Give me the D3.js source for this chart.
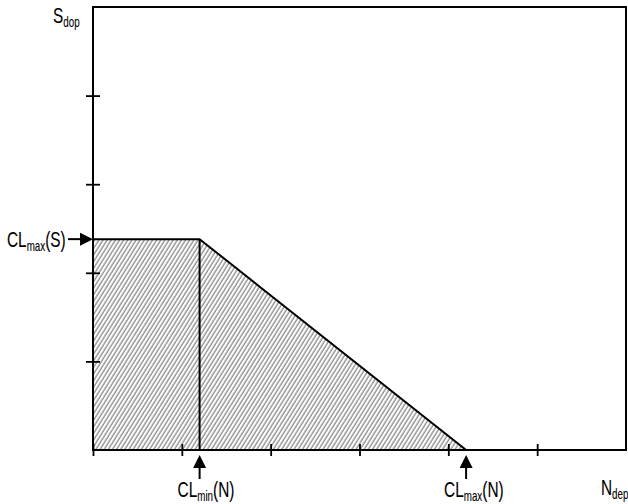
<!DOCTYPE html>
<html>
<head>
<meta charset="utf-8">
<script src="https://cdn.jsdelivr.net/npm/d3@7"></script>
<style>
  body { margin: 0; background: #fff; }
  svg text { font-family: "Liberation Sans", Arial, sans-serif; fill: #000; stroke: #000; stroke-width: 0.1; }
</style>
</head>
<body>
<svg id="chart" width="628" height="504"></svg>
<script>
// Values (axis units, no labels on ticks)
var xTicks = [0, 1, 2, 3, 4, 5]
var yTicks = [1, 2, 3, 4]
var xMax = 6, yMax = 5
var clMaxS = 2.38
var clMinN = 1.2
var clMaxN = 4.2
var region = [[0, 0], [0, clMaxS], [clMinN, clMaxS], [clMaxN, 0]]

var svg = d3.select('#chart')

var x = d3.scaleLinear().domain([0, xMax]).range([93, 626])
var y = d3.scaleLinear().domain([0, yMax]).range([450, 7])

// Hatch pattern
var defs = svg.append('defs')
defs.append('pattern')
    .attr('id', 'hatch')
    .attr('patternUnits', 'userSpaceOnUse')
    .attr('width', 3.5)
    .attr('height', 10)
    .attr('patternTransform', 'rotate(32)')
  .append('line')
    .attr('x1', 1).attr('y1', 0)
    .attr('x2', 1).attr('y2', 10)
    .attr('stroke', '#555')
    .attr('stroke-width', 0.9)

var line = d3.line().x(function(d) { return x(d[0]) }).y(function(d) { return y(d[1]) })

// Shaded area
svg.append('path')
    .attr('d', line(region) + 'Z')
    .attr('fill', 'url(#hatch)')
    .attr('stroke', '#000')
    .attr('stroke-width', 2)

// Divider at CLmin(N)
svg.append('line')
    .attr('x1', x(clMinN)).attr('x2', x(clMinN))
    .attr('y1', y(0)).attr('y2', y(clMaxS))
    .attr('stroke', '#000').attr('stroke-width', 2)

// Axes
var xAxis = svg.append('g')
    .attr('transform', 'translate(0,' + y(0) + ')')
    .call(d3.axisBottom(x).tickValues(xTicks).tickSize(6).tickFormat(''))
xAxis.select('.domain').remove()
xAxis.selectAll('.tick line').attr('y1', -6).attr('stroke-width', 1.8)

var yAxis = svg.append('g')
    .attr('transform', 'translate(' + x(0) + ',0)')
    .call(d3.axisLeft(y).tickValues(yTicks).tickSize(7).tickFormat(''))
yAxis.select('.domain').remove()
yAxis.selectAll('.tick line').attr('x1', 7).attr('stroke-width', 1.8)

// Frame: left axis, bottom axis, top and right
svg.append('path')
    .attr('d', line([[0, 0], [0, yMax], [xMax, yMax], [xMax, 0], [0, 0]]))
    .attr('fill', 'none')
    .attr('stroke', '#000')
    .attr('stroke-width', 2)

// Arrows
function arrowRight(px, py) {
    svg.append('line')
        .attr('x1', px - 25).attr('x2', px - 8)
        .attr('y1', py).attr('y2', py)
        .attr('stroke', '#000').attr('stroke-width', 2)
    svg.append('path')
        .attr('d', 'M' + px + ',' + py + 'L' + (px - 13) + ',' + (py - 6.5) + 'L' + (px - 13) + ',' + (py + 6.5) + 'Z')
        .attr('fill', '#000')
}
function arrowUp(px, py) {
    svg.append('line')
        .attr('x1', px).attr('x2', px)
        .attr('y1', py + 24).attr('y2', py + 8)
        .attr('stroke', '#000').attr('stroke-width', 2)
    svg.append('path')
        .attr('d', 'M' + px + ',' + py + 'L' + (px - 6.5) + ',' + (py + 13) + 'L' + (px + 6.5) + ',' + (py + 13) + 'Z')
        .attr('fill', '#000')
}

arrowRight(x(0), y(clMaxS))
arrowUp(x(clMinN), y(0) + 5)
arrowUp(x(clMaxN), y(0) + 5)

// Labels with subscripts, squeezed horizontally like a narrow face
function label(px, py, parts) {
    var t = svg.append('g')
        .attr('transform', 'translate(' + px + ',' + py + ') scale(0.7,1)')
      .append('text')
        .style('font-size', '22px')
    parts.forEach(function(p) {
        var s = t.append('tspan').text(p.text)
        if (p.sub) s.style('font-size', '14px').attr('dy', 4)
        else if (p.after) s.attr('dy', -4)
    })
    return t
}

label(53, 23, [{text: 'S'}, {text: 'dop', sub: true}])
label(7, 247, [{text: 'CL'}, {text: 'max', sub: true}, {text: '(S)', after: true}])
label(x(clMinN) - 22, 497, [{text: 'CL'}, {text: 'min', sub: true}, {text: '(N)', after: true}])
label(x(clMaxN) - 22, 497, [{text: 'CL'}, {text: 'max', sub: true}, {text: '(N)', after: true}])
label(601, 495, [{text: 'N'}, {text: 'dep', sub: true}])
</script>
</body>
</html>
